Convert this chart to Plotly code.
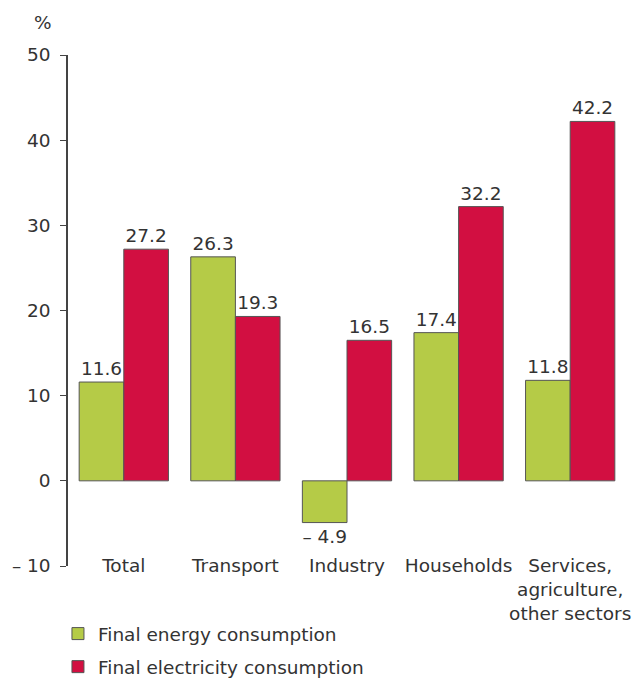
import plotly.graph_objects as go

sectors = ["Total", "Transport", "Industry", "Households",
           "Services,<br>agriculture,<br>other sectors"]
energy = [11.6, 26.3, -4.9, 17.4, 11.8]
electricity = [27.2, 19.3, 16.5, 32.2, 42.2]
y_ticks = [-10, 0, 10, 20, 30, 40, 50]


def fmt(v):
    # negative labels use an en dash and a space, as in the source
    return f"– {abs(v):.1f}" if v < 0 else f"{v:.1f}"


FONT = "DejaVu Sans"
FS = 18.5
TXT = "#333333"
AXIS = "#444444"

fig = go.Figure()

fig.add_trace(go.Bar(
    x=list(range(len(sectors))),
    y=energy,
    name="Final energy consumption",
    marker=dict(color="#b5cb47", line=dict(color="#555555", width=1)),
    text=[fmt(v) for v in energy],
    textposition="outside",
    cliponaxis=False,
    textfont=dict(family=FONT, size=FS, color=TXT),
    legendgroup="a",
))
fig.add_trace(go.Bar(
    x=list(range(len(sectors))),
    y=electricity,
    name="Final electricity consumption",
    marker=dict(color="#d20f41", line=dict(color="#555555", width=1)),
    text=[fmt(v) for v in electricity],
    textposition="outside",
    cliponaxis=False,
    textfont=dict(family=FONT, size=FS, color=TXT),
    legendgroup="b",
))

fig.update_layout(
    # page body adds an 8px margin; keep the figure inside the window
    width=633,
    height=671,
    margin=dict(l=60, r=15, t=47, b=113, autoexpand=False),
    paper_bgcolor="white",
    plot_bgcolor="white",
    barmode="group",
    bargap=0.2,
    bargroupgap=0,
    font=dict(family=FONT, size=FS, color=TXT),
    xaxis=dict(
        range=[-0.5, len(sectors) - 0.5],
        tickmode="array",
        tickvals=list(range(len(sectors))),
        ticktext=sectors,
        tickangle=0,
        ticks="",
        showline=False,
        showgrid=False,
        zeroline=False,
        anchor="free",
        position=0.026,
        automargin=False,
        ticklabeloverflow="allow",
        tickfont=dict(family=FONT, size=FS, color=TXT),
    ),
    xaxis2=dict(
        overlaying="x",
        range=[-0.5, len(sectors) - 0.5],
        tickmode="array",
        tickvals=[i + 0.5 for i in range(len(sectors))],
        showticklabels=False,
        ticks="outside",
        ticklen=7,
        tickcolor=AXIS,
        showline=True,
        linecolor=AXIS,
        linewidth=1.5,
        showgrid=False,
        zeroline=False,
        anchor="free",
        position=10 / 60,
        automargin=False,
    ),
    yaxis=dict(
        range=[-10, 50],
        tickmode="array",
        tickvals=y_ticks,
        ticktext=[fmt(v).replace(".0", "") for v in y_ticks],
        ticks="outside",
        ticklen=6,
        tickcolor=AXIS,
        showline=True,
        linecolor=AXIS,
        linewidth=1.5,
        showgrid=False,
        zeroline=False,
        automargin=False,
        ticklabelstandoff=6,
        tickfont=dict(family=FONT, size=FS, color=TXT),
    ),
    legend=dict(
        x=-0.018,
        y=-0.096,
        xanchor="left",
        yanchor="top",
        orientation="v",
        traceorder="grouped",
        tracegroupgap=6,
        font=dict(family=FONT, size=FS, color=TXT),
    ),
    showlegend=True,
    annotations=[dict(
        text="%", xref="paper", yref="paper", x=-0.025, y=1.039,
        xanchor="right", yanchor="bottom", showarrow=False,
        font=dict(family=FONT, size=FS, color=TXT),
    )],
)

fig.write_html("out.html")
